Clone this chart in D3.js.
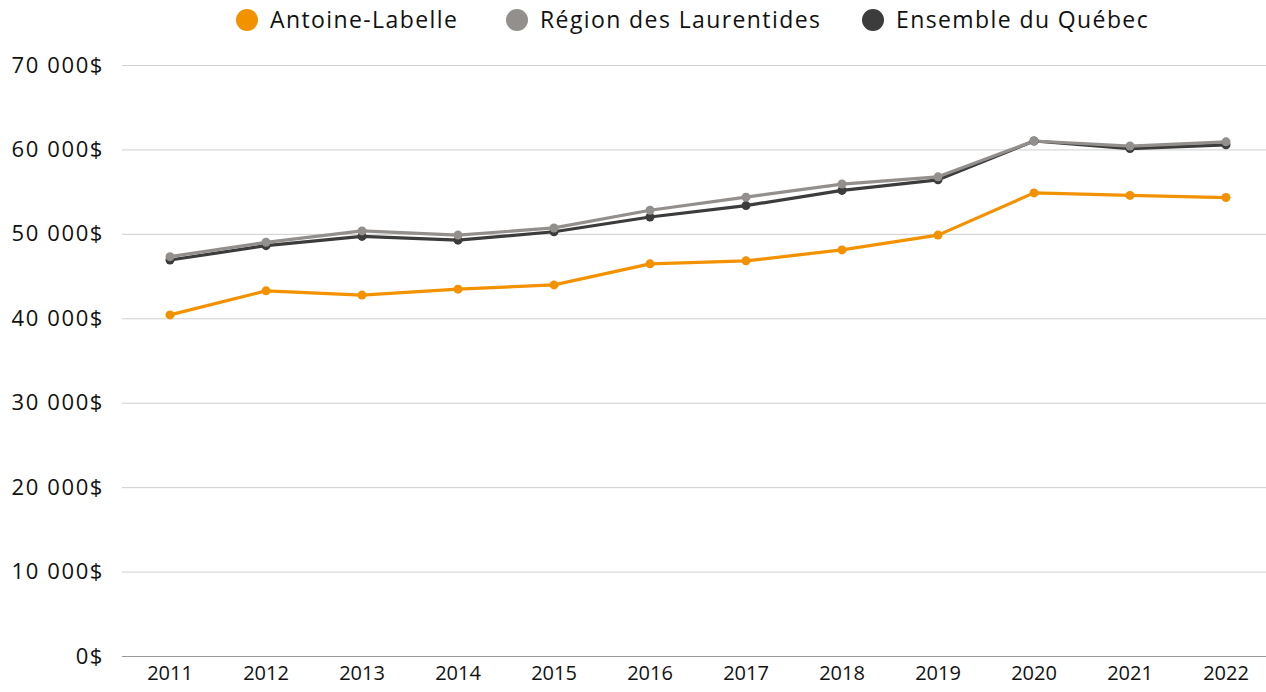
<!DOCTYPE html>
<html>
<head>
<meta charset="utf-8">
<script src="https://cdn.jsdelivr.net/npm/d3@7"></script>
<style>
  body { margin: 0; background: #fff; }
  text { font-family: "Open Sans", sans-serif; fill: #111; }
</style>
</head>
<body>
<div id="chart"></div>
<script>
// data
var years = ["2011","2012","2013","2014","2015","2016","2017","2018","2019","2020","2021","2022"];
var antoine = [40400, 43250, 42750, 43450, 43950, 46450, 46800, 48100, 49850, 54850, 54550, 54300];
var laurentides = [47300, 49000, 50350, 49850, 50700, 52800, 54350, 55900, 56750, 61000, 60400, 60900];
var quebec = [46900, 48600, 49700, 49250, 50250, 52000, 53350, 55150, 56400, 61000, 60100, 60550];
var yTicks = [0, 10000, 20000, 30000, 40000, 50000, 60000, 70000];

var series = [
  {name: "Antoine-Labelle", values: antoine, color: "#f39200"},
  {name: "Région des Laurentides", values: laurentides, color: "#938f8c"},
  {name: "Ensemble du Québec", values: quebec, color: "#3c3c3c"}
];

var W = 1266, H = 692;
var margin = {top: 65, right: 0, bottom: 36, left: 122};
var w = W - margin.left - margin.right,
    h = H - margin.top - margin.bottom;

var svg = d3.select("#chart")
  .append("svg")
  .attr("width", W)
  .attr("height", H);

var g = svg.append("g")
  .attr("transform", `translate(${margin.left},${margin.top})`);

var x = d3.scaleBand()
  .domain(years)
  .range([0, 96 * years.length]);

var y = d3.scaleLinear()
  .domain([0, 70000])
  .range([h, 0]);

// gridlines
g.selectAll(".grid")
  .data(yTicks.filter(d => d > 0))
  .enter()
  .append("line")
  .attr("x1", 0)
  .attr("x2", w)
  .attr("y1", d => y(d) + 0.5)
  .attr("y2", d => y(d) + 0.5)
  .attr("stroke", "#cfcfcf")
  .attr("stroke-width", 1);

// y axis labels
var yAxis = d3.axisLeft(y)
  .tickValues(yTicks)
  .tickSize(0)
  .tickPadding(18)
  .tickFormat(d => d3.format(",")(d).replace(/,/g, " ") + "$");

g.append("g")
  .call(yAxis)
  .call(s => s.select(".domain").remove())
  .selectAll("text")
  .style("font-size", "22px")
  .style("letter-spacing", "1.6px")
  .style("font-family", "'Open Sans', sans-serif")
  .attr("fill", "#111");

// x axis
var xAxis = d3.axisBottom(x).tickSize(0).tickPadding(10);
var xg = g.append("g")
  .attr("transform", `translate(0,${h})`)
  .call(xAxis);
xg.select(".domain").remove();
xg.selectAll("text")
  .style("font-size", "20px")
  .style("font-family", "'Open Sans', sans-serif")
  .attr("fill", "#111");

g.append("line")
  .attr("x1", 0).attr("x2", w)
  .attr("y1", h + 0.5).attr("y2", h + 0.5)
  .attr("stroke", "#999")
  .attr("stroke-width", 1.2);

// lines and points
var line = d3.line()
  .x((d, i) => x(years[i]) + x.bandwidth() / 2)
  .y(d => y(d));

series.slice().reverse().forEach(function(s) {
  g.append("path")
    .datum(s.values)
    .attr("fill", "none")
    .attr("stroke", s.color)
    .attr("stroke-width", 3.2)
    .attr("stroke-linejoin", "round")
    .attr("d", line);
});
series.slice().reverse().forEach(function(s) {
  g.selectAll(null)
    .data(s.values)
    .enter()
    .append("circle")
    .attr("cx", (d, i) => x(years[i]) + x.bandwidth() / 2)
    .attr("cy", d => y(d))
    .attr("r", 4.5)
    .attr("fill", s.color);
});

// legend
var legendX = [247, 517, 873];
var legend = svg.selectAll(".legend")
  .data(series)
  .enter()
  .append("g")
  .attr("transform", (d, i) => `translate(${legendX[i]},20)`);

legend.append("circle")
  .attr("r", 11)
  .attr("fill", d => d.color);

legend.append("text")
  .attr("x", 23)
  .attr("dy", "0.35em")
  .style("font-size", "23px")
  .style("letter-spacing", "1.4px")
  .text(d => d.name);
</script>
</body>
</html>
